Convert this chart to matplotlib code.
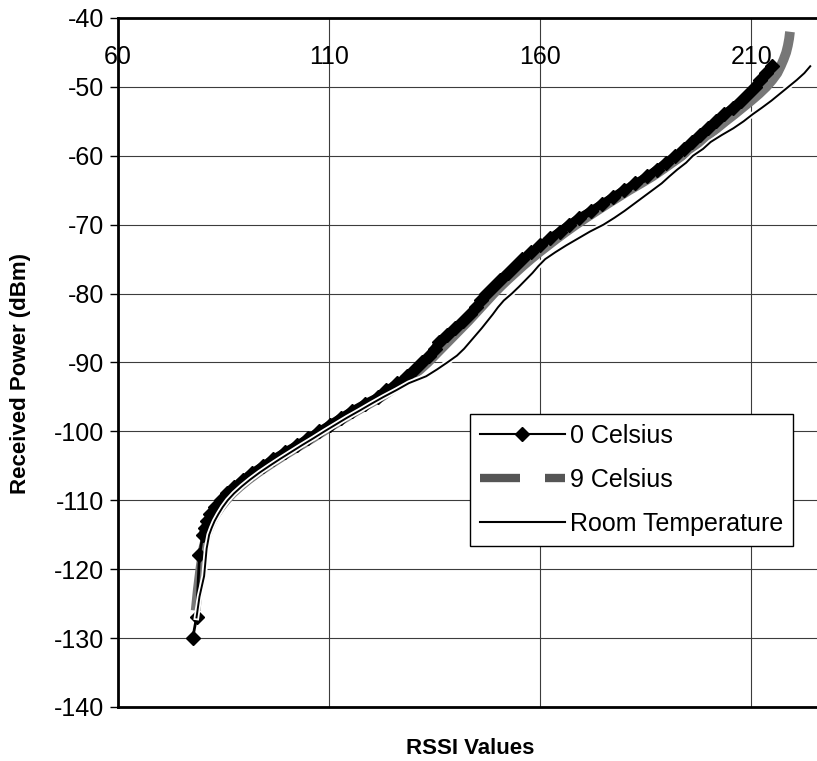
"""
RSSI calibration curves: received power vs RSSI value at three temperatures.
"""

import matplotlib
matplotlib.use("Agg")
import matplotlib.pyplot as plt
import matplotlib.patheffects as pe
from matplotlib.lines import Line2D

# --- data (RSSI value, received power in dBm) ---
c0_power = [-130, -127, -118, -115, -114, -113, -112, -111, -110, -109, -108,
            -107, -106, -105, -104, -103, -102, -101, -100, -99, -98, -97,
            -96, -95, -94, -93, -92, -91, -90, -89, -88, -87, -86, -85, -84,
            -83, -82, -81, -80, -79, -78, -77, -76, -75, -74, -73, -72, -71,
            -70, -69, -68, -67, -66, -65, -64, -63, -62, -61, -60, -59, -58,
            -57, -56, -55, -54, -53, -52, -51, -50, -49, -48, -47]
c0_rssi = [77.7, 78.6, 79.3, 80.1, 80.6, 81.2, 81.9, 83.0, 84.3, 85.8, 87.6,
           89.6, 91.8, 94.3, 96.8, 99.5, 102.3, 105.0, 107.6, 110.2, 112.8,
           115.5, 118.4, 121.6, 123.6, 126.2, 128.5, 130.4, 132.1, 133.7,
           135.0, 136.0, 137.9, 139.8, 141.7, 143.5, 144.8, 146.0, 147.3,
           148.9, 150.5, 152.3, 154.0, 155.8, 157.8, 160.0, 162.3, 164.6,
           166.8, 169.3, 172.0, 174.6, 177.2, 179.8, 182.6, 185.3, 187.6,
           189.9, 192.0, 194.2, 196.0, 197.8, 199.7, 201.6, 203.5, 205.7,
           207.6, 209.3, 210.8, 212.2, 213.5, 215.0]

c9_power = [-126, -123, -120, -117, -115, -114, -113, -112, -111, -110, -109,
            -108, -107, -106, -105, -104, -103, -102, -101, -100, -99, -98,
            -97, -96, -95, -94, -93, -92, -91, -90, -89, -88, -87, -86, -85,
            -84, -83, -82, -81, -80, -79, -78, -77, -76, -75, -74, -73, -72,
            -71, -70, -69, -68, -67, -66, -65, -64, -63, -62, -61, -60, -59,
            -58, -57, -56, -55, -54, -53, -52, -51, -50, -49, -48, -47, -46,
            -45, -44, -43, -42]
c9_rssi = [78.4, 78.9, 79.5, 80.2, 81.0, 81.6, 82.3, 83.2, 84.3, 85.6, 87.1,
           88.9, 90.9, 93.1, 95.5, 98.0, 100.6, 103.3, 106.0, 108.6, 111.2,
           113.9, 116.6, 119.5, 122.4, 124.8, 127.3, 129.6, 131.6, 133.4,
           135.0, 136.6, 138.2, 139.8, 141.4, 143.0, 144.5, 146.0, 147.5,
           149.0, 150.6, 152.3, 154.1, 155.9, 157.8, 159.8, 161.9, 164.0,
           166.2, 168.5, 170.9, 173.4, 175.9, 178.5, 181.1, 183.9, 186.6,
           189.0, 191.3, 193.6, 195.8, 197.8, 199.8, 201.9, 203.9, 206.0,
           208.0, 210.0, 211.9, 213.6, 215.0, 216.2, 217.0, 217.7, 218.3,
           218.7, 219.0, 219.2]

room_power = [-127, -124, -121, -117, -115, -114, -113, -112, -111, -110,
              -109, -108, -107, -106, -105, -104, -103, -102, -101, -100, -99,
              -98, -97, -96, -95, -94, -93, -92, -91, -90, -89, -88, -87, -86,
              -85, -84, -83, -82, -81, -80, -79, -78, -77, -76, -75, -74, -73,
              -72, -71, -70, -69, -68, -67, -66, -65, -64, -63, -62, -61, -60,
              -59, -58, -57, -56, -55, -54, -53, -52, -51, -50, -49, -48, -47]
room_rssi = [78.6, 79.3, 80.4, 81.0, 81.6, 82.2, 82.9, 83.8, 84.8, 86.0, 87.5,
             89.3, 91.3, 93.5, 95.9, 98.4, 101.0, 103.6, 106.3, 108.9, 111.6,
             114.3, 117.2, 120.0, 122.9, 126.0, 128.9, 133.0, 135.6, 138.0,
             140.3, 142.0, 143.4, 144.8, 146.2, 147.5, 148.8, 150.0, 151.4,
             153.3, 155.0, 156.6, 158.2, 159.6, 161.2, 163.6, 166.2, 169.0,
             171.8, 175.0, 177.6, 180.0, 182.2, 184.4, 186.6, 188.8, 190.6,
             192.5, 194.6, 196.2, 198.6, 200.4, 203.0, 205.8, 208.2, 210.3,
             212.6, 214.8, 216.8, 218.8, 220.8, 222.6, 224.0]

x_ticks = [60, 110, 160, 210]
y_ticks = list(range(-140, -39, 10))

plt.rcParams["font.family"] = ["Liberation Sans", "DejaVu Sans"]
plt.rcParams["axes.unicode_minus"] = False

fig = plt.figure(figsize=(8.17, 7.61), dpi=100)
ax = fig.add_axes([118 / 817, 1 - 707 / 761, 1 - 118 / 817, (707 - 18) / 761])

ax.set_xlim(60, 225.6)
ax.set_ylim(-140, -40)

ax.grid(True, color="#3c3c3c", linewidth=0.8)
ax.set_axisbelow(True)
ax.set_xticks(x_ticks)
ax.set_yticks(y_ticks)
ax.set_yticklabels([str(v) for v in y_ticks])

for side in ("left", "bottom", "top"):
    ax.spines[side].set_linewidth(2.0)
ax.spines["right"].set_visible(False)

ax.tick_params(axis="y", direction="out", length=6, width=1.0,
               labelsize=18, pad=4)
ax.tick_params(axis="x", bottom=False, top=False, labelbottom=False,
               labeltop=True, labelsize=18, pad=-40)

# 9 Celsius underneath, 0 Celsius as a dense diamond band, room temp on top
ax.plot(c9_rssi, c9_power, color="#777777", linewidth=7,
        solid_capstyle="butt", zorder=3)
ax.plot(c0_rssi, c0_power, color="black", linewidth=2, marker="D",
        markersize=7, zorder=4)
# the points crowd together above -115 dBm and merge into a solid band
ax.plot(c0_rssi[3:], c0_power[3:], color="black", linewidth=6,
        solid_joinstyle="round", solid_capstyle="round", zorder=4)
ax.plot(room_rssi, room_power, color="black", linewidth=1.4, zorder=5,
        path_effects=[pe.withStroke(linewidth=4, foreground="white")])

handles = [
    Line2D([], [], color="black", linewidth=1.5, marker="D", markersize=7),
    Line2D([], [], color="#555555", linewidth=6, dashes=(4.8, 3.0)),
    Line2D([], [], color="black", linewidth=1.5),
]
leg = fig.legend(handles, ["0 Celsius", "9 Celsius", "Room Temperature"],
                 loc="upper left", bbox_to_anchor=(470 / 817, 1 - 414 / 761),
                 fontsize=18, frameon=True, fancybox=False, framealpha=1,
                 edgecolor="black", handlelength=3.4, handletextpad=0.2,
                 labelspacing=0.8, borderpad=0.4, borderaxespad=0)
leg.get_frame().set_linewidth(1.0)

fig.text(470 / 817, 1 - 748 / 761, "RSSI Values", ha="center", va="center",
         fontsize=16, fontweight="bold")
fig.text(21 / 817, 1 - 374 / 761, "Received Power (dBm)", ha="center",
         va="center", rotation=90, fontsize=16, fontweight="bold")

fig.savefig("out.png", dpi=100)
plt.close(fig)
